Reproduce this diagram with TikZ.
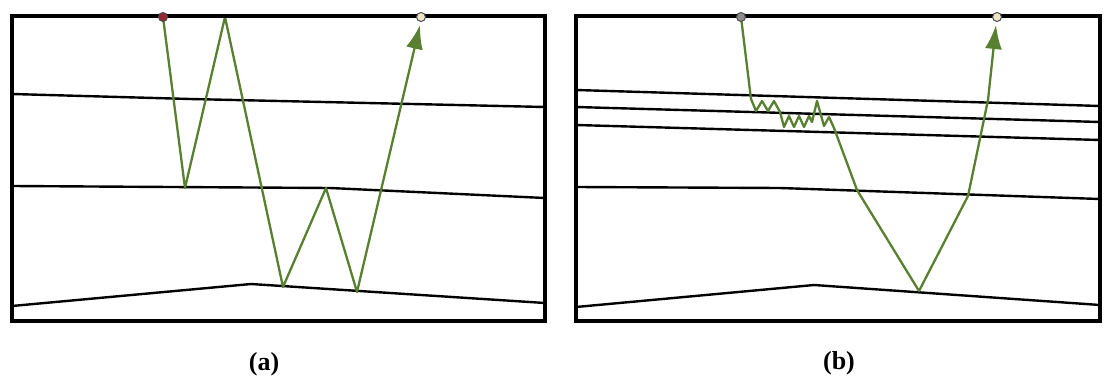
\documentclass[tikz,border=0pt]{standalone}
\usepackage{fontspec}
\setmainfont{Liberation Serif}
\usetikzlibrary{arrows.meta}
\definecolor{raygreen}{RGB}{88,128,48}
\definecolor{srcred}{RGB}{150,40,50}
\definecolor{recpale}{RGB}{235,230,200}
\tikzset{
  frame/.style={line width=3.6pt,line join=miter},
  layer/.style={line width=2.4pt},
  ray/.style={raygreen,line width=2.3pt,line join=round},
  rayend/.style={-{Latex[length=24pt,width=17pt]}},
  shot/.style={circle,draw=black!70,line width=1pt,fill=#1,inner sep=0pt,minimum size=9pt},
  caption/.style={font=\fontsize{26}{30}\selectfont\bfseries}
}
\begin{document}
\begin{tikzpicture}[x=1pt,y=-1pt]
\useasboundingbox (0,0) rectangle (1105,385);
% panel (a)
\draw[layer] (12,94) -- (190,99) -- (545,107);
\draw[layer] (12,186) -- (330,188) -- (545,198);
\draw[layer] (12,306) -- (251,284) -- (545,303);
\draw[ray,rayend] (163,17) -- (185,188) -- (225,17) -- (283,287) -- (326,188)
  -- (357,292) -- (420,25);
\draw[frame] (12,16) rectangle (545,321);
\node[shot=srcred] (srcA) at (163,17) {};
\node[shot=recpale] (recA) at (421,17) {};
\node[caption] (capA) at (264,364) {(a)};
% panel (b)
\draw[layer] (576,90) -- (1100,106);
\draw[layer] (576,107) -- (1100,122);
\draw[layer] (576,125) -- (1100,140);
\draw[layer] (576,187) -- (780,188) -- (1100,199);
\draw[layer] (576,307) -- (814,285) -- (1100,305);
\draw[ray,rayend] (741,17) -- (751,99) -- (756,111) -- (762,101) -- (768,111)
  -- (774,101) -- (780,112) -- (784,127) -- (789,116) -- (794,127) -- (799,116)
  -- (804,127) -- (809,116) -- (812,122) -- (817,101) -- (824,126) -- (829,117)
  -- (834,128) -- (857,190) -- (919,291) -- (968,196) -- (988,100) -- (996,25);
\draw[frame] (576,16) rectangle (1100,321);
\node[shot=black!45] (srcB) at (741,17) {};
\node[shot=recpale] (recB) at (997,17) {};
\node[caption] (capB) at (839,363) {(b)};
\end{tikzpicture}
\end{document}
